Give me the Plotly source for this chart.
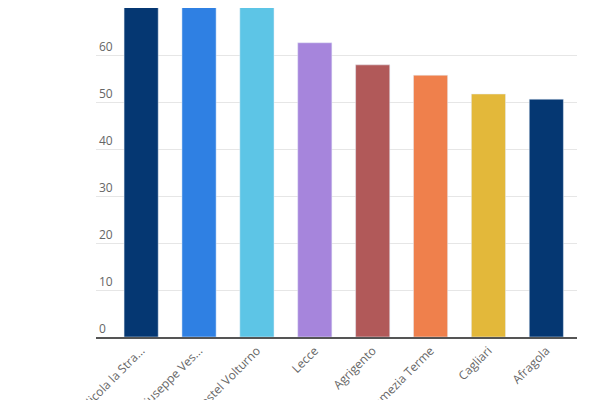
import plotly.graph_objects as go

categories = ["San Nicola la Stra...", "San Giuseppe Ves...", "Castel Volturno", "Lecce",
              "Agrigento", "Lamezia Terme", "Cagliari", "Afragola"]
values = [80, 76, 73, 62.6, 57.9, 55.7, 51.7, 50.6]
colors = ["#053772", "#2f80e3", "#5dc5e6", "#a685dc", "#b15959", "#ef804c", "#e3b83a", "#053772"]
tickvals = [0, 10, 20, 30, 40, 50, 60, 70]

fig = go.Figure(go.Bar(x=categories, y=values, marker_color=colors, width=0.59))
fig.update_layout(
    width=600, height=400, margin=dict(l=88, r=31, t=0, b=71),
    plot_bgcolor="white", paper_bgcolor="white", showlegend=False,
    font=dict(family="Open Sans", size=12, color="#666666"),
)
fig.update_xaxes(tickangle=-45, showline=True, linecolor="#555555", linewidth=2,
                 automargin=False, ticks="", ticklen=0,
                 tickfont=dict(size=12, color="#666666"), range=[-0.78, 7.53])
fig.update_yaxes(range=[0, 70], tickvals=tickvals, showgrid=True, gridcolor="#e6e6e6",
                 zeroline=False, ticklabelposition="inside top", automargin=False,
                 tickfont=dict(size=12, color="#666666"))
fig.write_html("out.html")
